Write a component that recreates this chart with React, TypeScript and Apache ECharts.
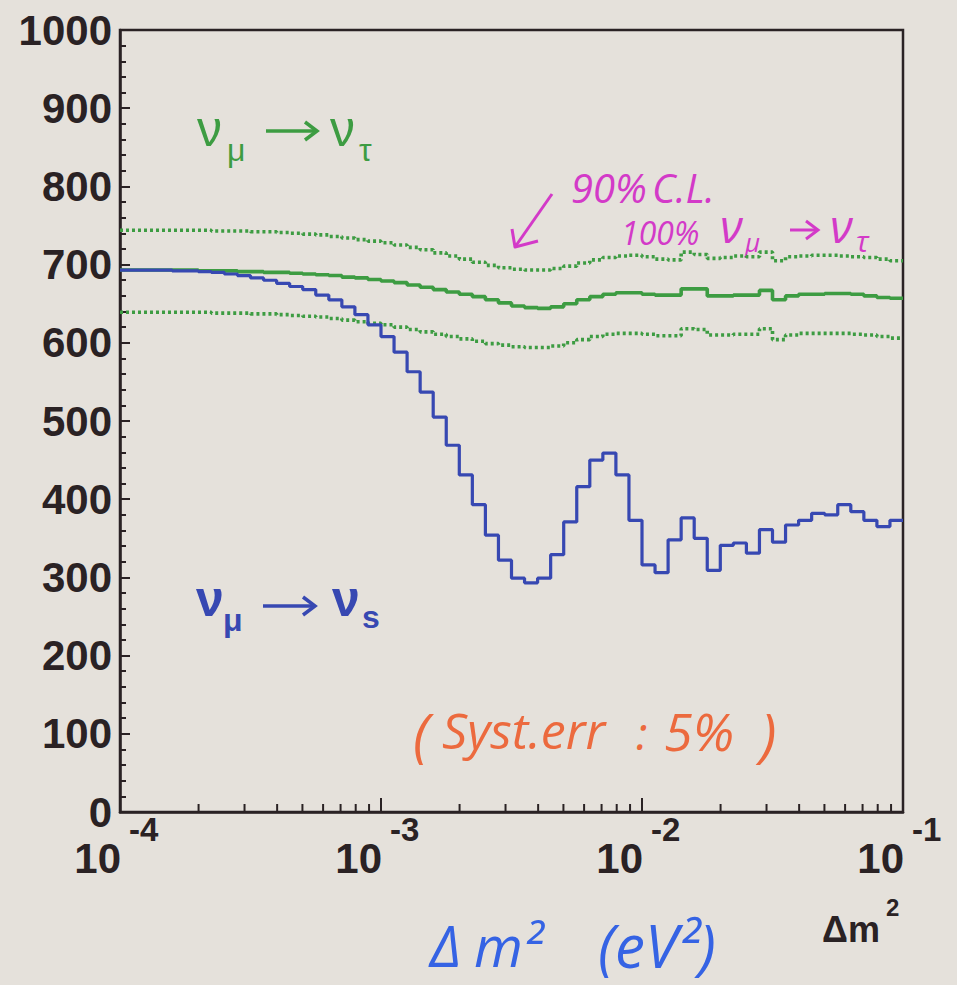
import React, { useEffect, useRef } from 'react';
import * as echarts from 'echarts';

// Δm² binning: 60 bins of 0.05 decade between 1e-4 and 1e-1 eV²
const LOG_MIN = -4;
const LOG_MAX = -1;
const BIN_COUNT = 60;

// expected events, νμ → νs (one value per bin)
const numuToNus = [
  693, 693, 693, 693, 692, 692, 691, 690, 688, 686,
  683, 680, 676, 672, 668, 661, 655, 646, 636, 623,
  608, 588, 563, 537, 505, 469, 431, 393, 354, 322,
  299, 293, 299, 329, 371, 416, 450, 459, 431, 373,
  316, 306, 348, 376, 350, 309, 341, 344, 331, 361,
  345, 367, 373, 382, 380, 393, 384, 373, 365, 373,
];

// expected events, νμ → ντ
const numuToNutau = [
  693, 693, 693, 693, 693, 693, 692, 692, 692, 691,
  691, 690, 690, 689, 688, 687, 686, 684, 683, 681,
  679, 677, 674, 671, 668, 665, 662, 659, 655, 651,
  647, 645, 644, 646, 650, 655, 659, 662, 664, 664,
  662, 661, 661, 669, 669, 660, 660, 661, 661, 667,
  655, 660, 662, 662, 663, 663, 662, 660, 658, 657,
];

// 90% C.L. band around 100% νμ → ντ
const clUpper = [
  744, 744, 744, 744, 744, 744, 744, 743, 743, 743,
  742, 742, 741, 740, 739, 738, 736, 734, 732, 730,
  728, 725, 722, 719, 715, 711, 707, 703, 699, 696,
  694, 693, 693, 695, 698, 702, 706, 709, 711, 712,
  710, 707, 706, 716, 713, 708, 709, 711, 710, 716,
  705, 710, 711, 712, 712, 711, 710, 709, 707, 705,
];
const clLower = [
  639, 639, 639, 639, 639, 639, 639, 638, 638, 638,
  637, 637, 636, 635, 634, 633, 631, 629, 627, 625,
  623, 620, 617, 614, 611, 608, 605, 602, 599, 597,
  595, 594, 594, 596, 600, 604, 608, 611, 612, 612,
  611, 609, 609, 618, 617, 610, 610, 611, 611, 618,
  604, 610, 612, 612, 612, 612, 611, 610, 608, 606,
];

// log-axis decades and their exponents
const decades = [1e-4, 1e-3, 1e-2, 1e-1];
const decadeExponents = ['-4', '-3', '-2', '-1'];
const minorTicks = [
  2e-4, 3e-4, 4e-4, 5e-4, 6e-4, 7e-4, 8e-4, 9e-4,
  2e-3, 3e-3, 4e-3, 5e-3, 6e-3, 7e-3, 8e-3, 9e-3,
  2e-2, 3e-2, 4e-2, 5e-2, 6e-2, 7e-2, 8e-2, 9e-2,
];

const PAPER = '#e5e1db';
const INK = '#2a2224';
const GREEN = '#3d9c42';
const BLUE = '#3748b2';
const MAGENTA = '#d33ac8';
const ORANGE = '#ec6a3e';
const PEN_BLUE = '#3563e4';
const FONT = '"Liberation Sans", Arial, sans-serif';
const HAND = '"Open Sans", "DejaVu Sans", sans-serif';

const binEdges = Array.from({ length: BIN_COUNT + 1 }, (_, k) =>
  Math.pow(10, LOG_MIN + (k * (LOG_MAX - LOG_MIN)) / BIN_COUNT)
);

// histogram outline: one point per bin edge, last bin repeated at the upper edge
const histogram = (vals: number[]) =>
  binEdges.map((e, k) => [e, vals[Math.min(k, vals.length - 1)]]);

const txt = (
  text: string,
  x: number,
  y: number,
  size: number,
  fill: string,
  extra: Record<string, any> = {}
) => ({
  type: 'text',
  x,
  y,
  silent: true,
  style: {
    text,
    fill,
    fontSize: size,
    fontFamily: FONT,
    align: 'left',
    verticalAlign: 'middle',
    ...extra,
  },
});

const pen = (text: string, x: number, y: number, size: number, fill: string) =>
  txt(text, x, y, size, fill, { fontFamily: HAND, fontStyle: 'italic' });

// straight arrow drawn as a shaft and an open head
const arrow = (x1: number, x2: number, y: number, color: string, width: number) => [
  {
    type: 'line',
    silent: true,
    shape: { x1, y1: y, x2: x2 - 2, y2: y },
    style: { stroke: color, lineWidth: width },
  },
  {
    type: 'polyline',
    silent: true,
    shape: { points: [[x2 - 12, y - 9], [x2, y], [x2 - 12, y + 9]] },
    style: { stroke: color, lineWidth: width, fill: 'none', lineJoin: 'miter' },
  },
];

export default function App() {
  const ref = useRef<HTMLDivElement>(null);

  useEffect(() => {
    document.body.style.margin = '0';
    const chart = echarts.init(ref.current!, null, { renderer: 'svg' });

    const option: any = {
      animation: false,
      backgroundColor: PAPER,
      grid: {
        left: 120,
        right: 54,
        top: 30,
        bottom: 173,
        show: true,
        borderColor: INK,
        borderWidth: 2.5,
        backgroundColor: 'transparent',
      },
      xAxis: {
        type: 'log',
        logBase: 10,
        min: 1e-4,
        max: 1e-1,
        axisLine: { show: true, lineStyle: { color: INK, width: 2.5 } },
        axisTick: { show: true, inside: true, length: 14, lineStyle: { color: INK, width: 2 } },
        axisLabel: { show: false },
        splitLine: { show: false },
        minorTick: { show: false },
      },
      yAxis: {
        type: 'value',
        min: 0,
        max: 1000,
        interval: 100,
        axisLine: { show: true, lineStyle: { color: INK, width: 2.5 } },
        axisTick: { show: true, inside: true, length: 10, lineStyle: { color: INK, width: 2 } },
        minorTick: { show: true, splitNumber: 5, length: 6, lineStyle: { color: INK, width: 2 } },
        axisLabel: {
          color: INK,
          fontFamily: FONT,
          fontWeight: 'bold',
          fontSize: 42,
          margin: 8,
          formatter: (v: number) => String(v),
        },
        splitLine: { show: false },
      },
      series: [
        {
          name: 'CL upper',
          type: 'line',
          step: 'end',
          symbol: 'none',
          data: histogram(clUpper),
          lineStyle: { color: GREEN, width: 3.6, type: [3, 3], cap: 'butt' },
          z: 2,
        },
        {
          name: 'CL lower',
          type: 'line',
          step: 'end',
          symbol: 'none',
          data: histogram(clLower),
          lineStyle: { color: GREEN, width: 3.6, type: [3, 3], cap: 'butt' },
          z: 2,
        },
        {
          name: 'numu-nutau',
          type: 'line',
          step: 'end',
          symbol: 'none',
          data: histogram(numuToNutau),
          lineStyle: { color: GREEN, width: 3.6 },
          z: 3,
        },
        {
          name: 'numu-nus',
          type: 'line',
          step: 'end',
          symbol: 'none',
          data: histogram(numuToNus),
          lineStyle: { color: BLUE, width: 3.2 },
          z: 4,
        },
        {
          // minor ticks of the log axis at 2..9 × 10^n
          name: 'minor ticks',
          type: 'custom',
          coordinateSystem: 'cartesian2d',
          data: minorTicks.map((v) => [v, 0]),
          encode: { x: 0, y: 1 },
          silent: true,
          z: 6,
          renderItem: (_params: any, api: any) => {
            const p = api.coord([api.value(0), 0]);
            return {
              type: 'line',
              shape: { x1: p[0], y1: p[1], x2: p[0], y2: p[1] - 8 },
              style: { stroke: INK, lineWidth: 2 },
            };
          },
        },
        {
          // decade labels written as 10 with a raised exponent
          name: 'decade labels',
          type: 'custom',
          coordinateSystem: 'cartesian2d',
          data: decades.map((v, i) => [v, 0, i]),
          encode: { x: 0, y: 1 },
          silent: true,
          z: 6,
          renderItem: (_params: any, api: any) => {
            const p = api.coord([api.value(0), 0]);
            const i = api.value(2);
            return {
              type: 'group',
              children: [
                {
                  type: 'text',
                  x: p[0] + 1,
                  y: p[1] + 25,
                  style: {
                    text: '10',
                    fill: INK,
                    fontSize: 42,
                    fontWeight: 'bold',
                    fontFamily: FONT,
                    align: 'right',
                    verticalAlign: 'top',
                  },
                },
                {
                  type: 'text',
                  x: p[0] + 9,
                  y: p[1] + 1,
                  style: {
                    text: decadeExponents[i],
                    fill: INK,
                    fontSize: 33,
                    fontWeight: 'bold',
                    fontFamily: FONT,
                    align: 'left',
                    verticalAlign: 'top',
                  },
                },
              ],
            };
          },
        },
      ],
      graphic: [
        // νμ → ντ
        txt('ν', 197, 129, 50, GREEN),
        txt('μ', 227, 150, 32, GREEN),
        ...arrow(266, 317, 131, GREEN, 3.5),
        txt('ν', 330, 129, 50, GREEN),
        txt('τ', 359, 150, 32, GREEN),
        // νμ → νs
        txt('ν', 196, 599, 50, BLUE, { fontWeight: 'bold' }),
        txt('μ', 223, 620, 32, BLUE, { fontWeight: 'bold' }),
        ...arrow(263, 315, 606, BLUE, 3.5),
        txt('ν', 332, 599, 50, BLUE, { fontWeight: 'bold' }),
        txt('s', 362, 617, 32, BLUE, { fontWeight: 'bold' }),
        // axis title at the lower right corner
        txt('Δm', 822, 929, 36, INK, { fontWeight: 'bold' }),
        txt('2', 886, 907, 24, INK, { fontWeight: 'bold' }),
        // pen notes
        pen('90%', 571, 187, 40, MAGENTA),
        pen('C.L.', 652, 187, 40, MAGENTA),
        pen('100%', 621, 232, 32, MAGENTA),
        pen('ν', 720, 225, 46, MAGENTA),
        pen('μ', 745, 242, 26, MAGENTA),
        ...arrow(790, 818, 230, MAGENTA, 3),
        pen('ν', 830, 225, 46, MAGENTA),
        pen('τ', 856, 240, 30, MAGENTA),
        {
          type: 'polyline',
          silent: true,
          shape: { points: [[552, 194], [515, 247]] },
          style: { stroke: MAGENTA, lineWidth: 3, fill: 'none' },
        },
        {
          type: 'polyline',
          silent: true,
          shape: { points: [[512, 229], [515, 247], [538, 241]] },
          style: { stroke: MAGENTA, lineWidth: 3, fill: 'none', lineJoin: 'round' },
        },
        pen('(', 413, 733, 58, ORANGE),
        pen('Syst.err', 442, 730, 50, ORANGE),
        pen(':', 636, 732, 46, ORANGE),
        pen('5%', 664, 730, 52, ORANGE),
        pen(')', 760, 733, 58, ORANGE),
        pen('Δ', 430, 945, 56, PEN_BLUE),
        pen('m²', 474, 945, 56, PEN_BLUE),
        pen('(eV²)', 598, 945, 60, PEN_BLUE),
      ],
    };

    chart.setOption(option);
    return () => chart.dispose();
  }, []);

  return <div ref={ref} style={{ width: 957, height: 985 }} />;
}
